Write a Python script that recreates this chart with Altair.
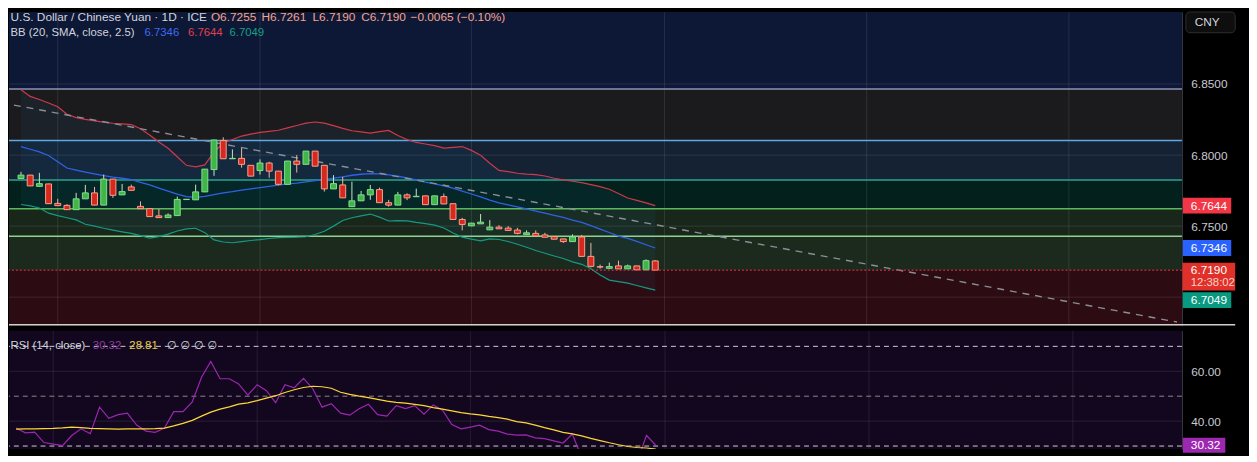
import altair as alt
import pandas as pd

FONT = "Liberation Sans"

# ---------------- data ----------------
opens = [6.7835, 6.7859, 6.7780, 6.7797, 6.7660, 6.7646, 6.7616, 6.7692, 6.7734, 6.7648,
         6.7831, 6.7720, 6.7776, 6.7639, 6.7623, 6.7572, 6.7560, 6.7574, 6.7687, 6.7685,
         6.7741, 6.7898, 6.8102, 6.7974, 6.7977, 6.7928, 6.7891, 6.7944, 6.7887, 6.7794,
         6.7958, 6.7935, 6.8028, 6.7928, 6.7762, 6.7790, 6.7637, 6.7678, 6.7720, 6.7757,
         6.7665, 6.7648, 6.7720, 6.7707, 6.7713, 6.7651, 6.7708, 6.7658, 6.7547, 6.7502,
         6.7516, 6.7474, 6.7493, 6.7486, 6.7472, 6.7440, 6.7449, 6.7438, 6.7426, 6.7410,
         6.7391, 6.7424, 6.7287, 6.7214, 6.7203, 6.7220, 6.7199, 6.7220, 6.7192, 6.7255]
highs = [6.7882, 6.7860, 6.7875, 6.7798, 6.7692, 6.7655, 6.7734, 6.7790, 6.7776, 6.7863,
         6.7832, 6.7797, 6.7792, 6.7674, 6.7624, 6.7620, 6.7590, 6.7708, 6.7690, 6.7792,
         6.7902, 6.8108, 6.8125, 6.8040, 6.8049, 6.7929, 6.7970, 6.7953, 6.7888, 6.7959,
         6.8000, 6.8029, 6.8029, 6.7929, 6.7859, 6.7847, 6.7813, 6.7748, 6.7790, 6.7771,
         6.7685, 6.7741, 6.7731, 6.7764, 6.7714, 6.7714, 6.7729, 6.7659, 6.7558, 6.7523,
         6.7585, 6.7542, 6.7507, 6.7500, 6.7488, 6.7470, 6.7470, 6.7453, 6.7427, 6.7411,
         6.7442, 6.7438, 6.7382, 6.7229, 6.7243, 6.7257, 6.7229, 6.7221, 6.7266, 6.7261]
lows = [6.7833, 6.7782, 6.7779, 6.7657, 6.7643, 6.7615, 6.7615, 6.7691, 6.7647, 6.7647,
        6.7699, 6.7719, 6.7751, 6.7622, 6.7566, 6.7559, 6.7559, 6.7573, 6.7686, 6.7684,
        6.7740, 6.7854, 6.7973, 6.7973, 6.7912, 6.7851, 6.7863, 6.7840, 6.7787, 6.7793,
        6.7877, 6.7934, 6.7921, 6.7743, 6.7761, 6.7698, 6.7636, 6.7677, 6.7685, 6.7664,
        6.7637, 6.7647, 6.7683, 6.7706, 6.7650, 6.7650, 6.7655, 6.7546, 6.7470, 6.7500,
        6.7515, 6.7472, 6.7480, 6.7469, 6.7442, 6.7439, 6.7430, 6.7421, 6.7407, 6.7382,
        6.7390, 6.7286, 6.7210, 6.7201, 6.7202, 6.7198, 6.7198, 6.7191, 6.7191, 6.7190]
closes = [6.7859, 6.7783, 6.7799, 6.7658, 6.7644, 6.7616, 6.7692, 6.7734, 6.7648, 6.7831,
          6.7717, 6.7743, 6.7752, 6.7623, 6.7567, 6.7560, 6.7578, 6.7688, 6.7689, 6.7741,
          6.7901, 6.8106, 6.7974, 6.7977, 6.7935, 6.7852, 6.7944, 6.7887, 6.7794, 6.7958,
          6.7935, 6.8028, 6.7922, 6.7762, 6.7799, 6.7699, 6.7678, 6.7720, 6.7757, 6.7665,
          6.7648, 6.7720, 6.7699, 6.7710, 6.7651, 6.7713, 6.7656, 6.7547, 6.7512, 6.7521,
          6.7528, 6.7493, 6.7481, 6.7470, 6.7449, 6.7453, 6.7431, 6.7422, 6.7408, 6.7391,
          6.7424, 6.7287, 6.7217, 6.7212, 6.7215, 6.7199, 6.7220, 6.7192, 6.7257, 6.7190]

bb_upper = [6.8460, 6.8413, 6.8391, 6.8367, 6.8340, 6.8287, 6.8264, 6.8251, 6.8241, 6.8232,
            6.8224, 6.8220, 6.8215, 6.8185, 6.8141, 6.8092, 6.8048, 6.7988, 6.7928, 6.7917,
            6.7931, 6.8022, 6.8085, 6.8110, 6.8134, 6.8147, 6.8160, 6.8167, 6.8175, 6.8192,
            6.8208, 6.8225, 6.8233, 6.8225, 6.8207, 6.8188, 6.8171, 6.8163, 6.8155, 6.8165,
            6.8174, 6.8138, 6.8110, 6.8089, 6.8078, 6.8067, 6.8049, 6.8054, 6.8060, 6.8033,
            6.7999, 6.7943, 6.7892, 6.7883, 6.7872, 6.7866, 6.7862, 6.7853, 6.7837, 6.7826,
            6.7816, 6.7806, 6.7792, 6.7778, 6.7760, 6.7729, 6.7698, 6.7681, 6.7664, 6.7644]
bb_basis = [6.8060, 6.8041, 6.8022, 6.7997, 6.7953, 6.7909, 6.7894, 6.7880, 6.7867, 6.7856,
            6.7845, 6.7837, 6.7827, 6.7808, 6.7790, 6.7768, 6.7746, 6.7726, 6.7708, 6.7703,
            6.7710, 6.7722, 6.7734, 6.7742, 6.7753, 6.7762, 6.7771, 6.7779, 6.7788, 6.7797,
            6.7803, 6.7812, 6.7820, 6.7828, 6.7838, 6.7847, 6.7858, 6.7865, 6.7869, 6.7868,
            6.7860, 6.7851, 6.7840, 6.7825, 6.7810, 6.7797, 6.7783, 6.7767, 6.7747, 6.7726,
            6.7706, 6.7683, 6.7663, 6.7649, 6.7635, 6.7621, 6.7606, 6.7591, 6.7576, 6.7561,
            6.7542, 6.7526, 6.7504, 6.7479, 6.7455, 6.7430, 6.7413, 6.7393, 6.7369, 6.7346]
bb_lower = [6.7652, 6.7642, 6.7628, 6.7591, 6.7574, 6.7559, 6.7544, 6.7513, 6.7500, 6.7485,
            6.7472, 6.7460, 6.7449, 6.7433, 6.7415, 6.7426, 6.7444, 6.7466, 6.7481, 6.7485,
            6.7454, 6.7403, 6.7388, 6.7383, 6.7391, 6.7399, 6.7405, 6.7413, 6.7419, 6.7421,
            6.7422, 6.7425, 6.7441, 6.7464, 6.7500, 6.7540, 6.7559, 6.7572, 6.7585, 6.7563,
            6.7536, 6.7539, 6.7537, 6.7526, 6.7517, 6.7507, 6.7487, 6.7452, 6.7422, 6.7408,
            6.7396, 6.7410, 6.7406, 6.7392, 6.7372, 6.7351, 6.7328, 6.7309, 6.7290, 6.7272,
            6.7248, 6.7231, 6.7200, 6.7156, 6.7120, 6.7109, 6.7099, 6.7082, 6.7065, 6.7049]

rsi_vals = [37.2, 35.3, 35.6, 31.4, 30.8, 30.2, 34.2, 36.9, 35.0, 45.6,
            41.1, 42.6, 43.2, 38.4, 36.0, 35.5, 37.2, 43.8, 43.8, 47.7,
            57.6, 63.9, 57.0, 57.0, 54.9, 50.4, 54.6, 52.2, 47.4, 54.6,
            53.4, 57.2, 53.0, 45.6, 47.0, 43.2, 42.4, 45.0, 46.8, 42.6,
            42.0, 46.2, 45.0, 46.2, 42.8, 46.5, 44.4, 38.6, 36.9, 37.6,
            38.4, 36.6, 36.0, 34.8, 34.4, 34.5, 33.3, 33.0, 32.1, 31.2,
            34.8, 25.5, 22.0, 22.3, 23.4, 22.6, 24.6, 23.8, 34.3, 30.32]
rsi_ma = [36.8, 36.9, 36.9, 37.0, 37.1, 37.3, 37.6, 37.4, 37.1, 37.0,
          36.9, 36.8, 36.9, 36.9, 36.9, 37.0, 37.2, 38.1, 39.1, 40.3,
          42.0, 43.6, 44.8, 45.7, 46.8, 47.3, 48.2, 49.2, 50.2, 51.5,
          52.6, 53.5, 54.0, 53.8, 53.2, 51.6, 50.7, 50.0, 49.4, 48.7,
          48.0, 47.5, 47.2, 46.7, 46.2, 45.4, 44.8, 44.1, 43.4, 42.9,
          42.5, 41.9, 41.4, 40.8, 39.8, 39.3, 38.4, 37.4, 36.5, 35.5,
          34.9, 34.1, 33.1, 32.2, 31.3, 30.5, 29.8, 29.4, 29.2, 28.81]

month_bars = [4, 26, 49, 70, 92, 114]          # vertical grid (month starts)
price_ticks = [6.85, 6.80, 6.75]
price_grid = [6.85, 6.80, 6.75, 6.70]
levels = [6.8465, 6.8102, 6.7824, 6.7623, 6.7428]   # drawn horizontal levels
trend_x = [-0.77, 125.76]
trend_y = [6.8352, 6.6825]
last_price = 6.7190
tag_upper, tag_basis, tag_lower = 6.7644, 6.7346, 6.7049
rsi_last, rsi_ma_last = 30.32, 28.81
rsi_levels = [70, 50, 30]
rsi_grid = [60, 40]

header1 = ["U.S. Dollar / Chinese Yuan · 1D · ICE", "O6.7255", "H6.7261", "L6.7190",
           "C6.7190", "−0.0065 (−0.10%)"]
header2 = ["BB (20, SMA, close, 2.5)", "6.7346", "6.7644", "6.7049"]
header3 = ["RSI (14, close)", "30.32", "28.81", "∅  ∅  ∅  ∅"]
countdown = "12:38:02"

# ---------------- styles / layout ----------------
X_DOM = [-0.77, 125.76]
P_DOM = [6.6799, 6.9007]
R_DOM = [28.8, 76.3]
W, HP, HR = 1189, 318, 120
zone_colors = ["#0d1736", "#1b1b1d", "#142234", "#04201c", "#19271b", "#1c2a1e", "#2c0c12"]
level_colors = ["#8f92b8", "#5ea9e3", "#2aa38d", "#5cb85c", "#8fd18f"]
SAL = "#f5a48c"
TXT = "#d1d4dc"

one = pd.DataFrame({"a": [0]})
xs = alt.Scale(domain=X_DOM, nice=False, zero=False)
ps = alt.Scale(domain=P_DOM, nice=False, zero=False)
rs = alt.Scale(domain=R_DOM, nice=False, zero=False)


def axis(values, fmt):
    return alt.Axis(orient="right", values=values, format=fmt, title=None, grid=False,
                    ticks=False, tickSize=0, domain=True, domainColor="#3a3d45",
                    labelColor="#c8cad0", labelFont=FONT, labelFontSize=12,
                    labelPadding=9, labelFlush=False, labelOverlap=False)


PAX = axis(price_ticks, ".4f")
RAX = axis(rsi_grid, ".2f")


def X(f):
    return alt.X(f, scale=xs, axis=None)


def PY(f):
    return alt.Y(f, scale=ps, axis=PAX)


def RY(f):
    return alt.Y(f, scale=rs, axis=RAX)


def txt(s, x, y, color, size=12, font=FONT):
    return alt.Chart(one).mark_text(text=s, align="left", baseline="middle", color=color,
                                    fontSize=size, font=font).encode(
        x=alt.value(x), y=alt.value(y))


def tag(val, ychan, label, color, boff=0, thick=16, x2=W + 50, size=12):
    d = pd.DataFrame({"v": [val]})
    box = alt.Chart(d).mark_rule(color=color, strokeWidth=thick, yOffset=boff).encode(
        x=alt.value(W + 1), x2=alt.value(x2), y=ychan("v:Q"))
    t = alt.Chart(d).mark_text(text=label, color="#ffffff", align="left", baseline="middle",
                               fontSize=size, font=FONT, yOffset=boff).encode(
        x=alt.value(W + 9), y=ychan("v:Q"))
    return [box, t]


# ---------------- price pane ----------------
n = len(opens)
candles = pd.DataFrame({"i": list(range(n)), "o": opens, "h": highs, "l": lows, "c": closes})
up = candles["c"] >= candles["o"]
candles["bf"] = up.map({True: "#3fb54a", False: "#d7281f"})
candles["be"] = up.map({True: "#86dd8c", False: "#f6a48e"})
candles["wk"] = up.map({True: "#c6e6c6", False: "#f0b7a8"})

bb = pd.DataFrame({"i": list(range(n)), "u": bb_upper, "m": bb_basis, "lo": bb_lower})

edges = [P_DOM[1]] + levels + [last_price, P_DOM[0]]
zones_df = pd.DataFrame({"top": edges[:-1], "bot": edges[1:], "col": zone_colors})

zones = alt.Chart(zones_df).mark_rect().encode(
    x=alt.value(0), x2=alt.value(W), y=PY("top:Q"), y2="bot:Q",
    fill=alt.Fill("col:N", scale=None))
bbfill = alt.Chart(bb).mark_area(color="#2196f3", opacity=0.06).encode(
    x=X("i:Q"), y=PY("u:Q"), y2="lo:Q")
vgrid = alt.Chart(pd.DataFrame({"g": month_bars})).mark_rule(
    color="#ffffff", opacity=0.10, strokeWidth=1).encode(x=X("g:Q"))
hgrid = alt.Chart(pd.DataFrame({"g": price_grid})).mark_rule(
    color="#ffffff", opacity=0.10, strokeWidth=1).encode(y=PY("g:Q"))
lvl = alt.Chart(pd.DataFrame({"v": levels, "col": level_colors})).mark_rule(
    strokeWidth=1.5).encode(y=PY("v:Q"), color=alt.Color("col:N", scale=None))
up_line = alt.Chart(bb).mark_line(color="#cf3a4a", strokeWidth=1.2).encode(x=X("i:Q"), y=PY("u:Q"))
mid_line = alt.Chart(bb).mark_line(color="#2f62e6", strokeWidth=1.3).encode(x=X("i:Q"), y=PY("m:Q"))
low_line = alt.Chart(bb).mark_line(color="#159a80", strokeWidth=1.2).encode(x=X("i:Q"), y=PY("lo:Q"))
trend = alt.Chart(pd.DataFrame({"x": trend_x, "y": trend_y})).mark_line(
    color="#8a8e97", strokeWidth=1.4, strokeDash=[7, 6]).encode(x=X("x:Q"), y=PY("y:Q"))
wicks = alt.Chart(candles).mark_rule(strokeWidth=1).encode(
    x=X("i:Q"), y=PY("l:Q"), y2="h:Q", color=alt.Color("wk:N", scale=None))
bodies = alt.Chart(candles).mark_bar(size=6, strokeWidth=1).encode(
    x=X("i:Q"), y=PY("o:Q"), y2="c:Q",
    fill=alt.Fill("bf:N", scale=None), stroke=alt.Stroke("be:N", scale=None))
lastline = alt.Chart(pd.DataFrame({"v": [last_price]})).mark_rule(
    color="#f23645", strokeDash=[2, 2], strokeWidth=1).encode(y=PY("v:Q"))
separator = alt.Chart(one).mark_rule(color="#d0d0d0", strokeWidth=1.5).encode(
    x=alt.value(0), x2=alt.value(W + 54), y=alt.value(HP - 1))
cny_box = alt.Chart(one).mark_rect(fill="#0e0e0e", stroke="#2e2e2e", strokeWidth=1,
                                   cornerRadius=4).encode(
    x=alt.value(W + 4), x2=alt.value(W + 54), y=alt.value(0), y2=alt.value(21))

h1x = [1.6, 204.7, 256, 307.7, 357, 407]
h1c = [TXT, SAL, SAL, SAL, SAL, SAL]
h2x = [1.6, 137.4, 181.4, 223.5]
h2c = [TXT, "#3d6cf0", "#e0414f", "#15a085"]
texts = [txt(s, x, 5.5, c) for s, x, c in zip(header1, h1x, h1c)]
texts += [txt(s, x, 21.5, c, size=11.5) for s, x, c in zip(header2, h2x, h2c)]
texts.append(txt("CNY", W + 13, 10, TXT))

tags = []
tags += tag(tag_upper, PY, "6.7644", "#f23645")
tags += tag(tag_basis, PY, "6.7346", "#2962ff")
tags += tag(tag_lower, PY, "6.7049", "#089981", boff=10)
# two-line last-price tag
d_last = pd.DataFrame({"v": [last_price]})
tags.append(alt.Chart(d_last).mark_rule(color="#e0302a", strokeWidth=28, yOffset=6.5).encode(
    x=alt.value(W + 0.5), x2=alt.value(W + 54), y=PY("v:Q")))
tags.append(alt.Chart(d_last).mark_text(text="6.7190", color="#ffffff", align="left",
                                        baseline="middle", fontSize=12, font=FONT).encode(
    x=alt.value(W + 9), y=PY("v:Q")))
tags.append(alt.Chart(d_last).mark_text(text=countdown, color="#ffd0c8", align="left",
                                        baseline="middle", fontSize=11.5, font=FONT,
                                        yOffset=13.5).encode(
    x=alt.value(W + 9), y=PY("v:Q")))

price = alt.layer(zones, bbfill, vgrid, hgrid, lvl, up_line, mid_line, low_line, trend,
                  wicks, bodies, lastline, separator, cny_box, *texts, *tags).properties(
    width=W, height=HP)

# ---------------- RSI pane ----------------
rsi_df = pd.DataFrame({"i": list(range(n)), "r": rsi_vals, "m": rsi_ma})
r_vgrid = alt.Chart(pd.DataFrame({"g": month_bars})).mark_rule(
    color="#ffffff", opacity=0.09, strokeWidth=1).encode(x=X("g:Q"))
r_hgrid = alt.Chart(pd.DataFrame({"g": rsi_grid})).mark_rule(
    color="#ffffff", opacity=0.10, strokeWidth=1).encode(y=RY("g:Q"))
r_lv = alt.Chart(pd.DataFrame({"g": rsi_levels, "col": ["#cfcfcf", "#8a8a8a", "#cfcfcf"]})).mark_rule(
    strokeWidth=1, strokeDash=[5, 4]).encode(y=RY("g:Q"), color=alt.Color("col:N", scale=None))
r_line = alt.Chart(rsi_df).mark_line(color="#9c27b0", strokeWidth=1.2, clip=True).encode(
    x=X("i:Q"), y=RY("r:Q"))
m_line = alt.Chart(rsi_df).mark_line(color="#fdd835", strokeWidth=1.2, clip=True).encode(
    x=X("i:Q"), y=RY("m:Q"))
h3x = [1.5, 85, 122, 160]
h3c = [TXT, "#8e3c9f", "#e8d24a", TXT]
h3f = [FONT, FONT, FONT, "DejaVu Sans"]
r_texts = [txt(s, x, 16, c, size=11.5, font=f) for s, x, c, f in zip(header3, h3x, h3c, h3f)]
r_tags = tag(rsi_last, RY, "30.32", "#9c27b0", thick=15, x2=W + 44)

rsi = alt.layer(r_vgrid, r_hgrid, r_lv, r_line, m_line, *r_texts, *r_tags).properties(
    width=W, height=HR)

chart = alt.vconcat(price, rsi, spacing=3).properties(
    background="#000000", padding=0).configure_view(stroke=None, fill="#12071f")

chart.save("out.html", embed_options={"renderer": "svg", "actions": False})
